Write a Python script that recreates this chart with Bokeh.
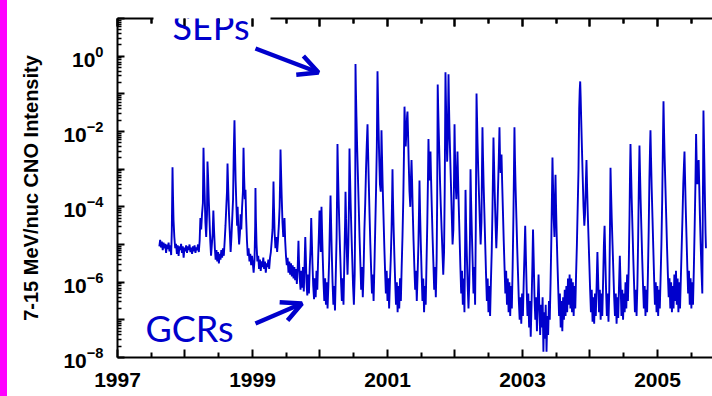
import math
from bokeh.plotting import figure
from bokeh.models import Range1d, FixedTicker, LinearAxis, Label, Arrow, OpenHead, Div
from bokeh.layouts import row
from bokeh.embed import file_html
from bokeh.resources import INLINE

# ---- data (decimal year, log10 of intensity) ----
year = [
    1997.620, 1997.632, 1997.645, 1997.657, 1997.670, 1997.682, 1997.695, 1997.707, 1997.720, 1997.732,
    1997.745, 1997.757, 1997.770, 1997.782, 1997.795, 1997.805, 1997.815, 1997.822, 1997.830, 1997.842,
    1997.855, 1997.867, 1997.880, 1997.892, 1997.905, 1997.917, 1997.930, 1997.942, 1997.955, 1997.967,
    1997.980, 1997.992, 1998.005, 1998.017, 1998.030, 1998.042, 1998.055, 1998.067, 1998.080, 1998.092,
    1998.105, 1998.117, 1998.130, 1998.142, 1998.155, 1998.167, 1998.180, 1998.192, 1998.205, 1998.217,
    1998.228, 1998.240, 1998.252, 1998.265, 1998.274, 1998.282, 1998.292, 1998.302, 1998.314, 1998.326,
    1998.333, 1998.342, 1998.352, 1998.362, 1998.374, 1998.386, 1998.398, 1998.410, 1998.420, 1998.430,
    1998.442, 1998.454, 1998.466, 1998.478, 1998.490, 1998.502, 1998.514, 1998.526, 1998.538, 1998.550,
    1998.562, 1998.575, 1998.588, 1998.600, 1998.612, 1998.622, 1998.630, 1998.640, 1998.652, 1998.664,
    1998.676, 1998.688, 1998.700, 1998.712, 1998.722, 1998.733, 1998.740, 1998.750, 1998.762, 1998.772,
    1998.780, 1998.790, 1998.802, 1998.814, 1998.824, 1998.834, 1998.846, 1998.858, 1998.867, 1998.876,
    1998.886, 1998.896, 1998.906, 1998.918, 1998.930, 1998.942, 1998.955, 1998.967, 1998.980, 1998.992,
    1999.005, 1999.017, 1999.030, 1999.040, 1999.044, 1999.050, 1999.060, 1999.072, 1999.085, 1999.097,
    1999.110, 1999.122, 1999.135, 1999.147, 1999.160, 1999.172, 1999.185, 1999.197, 1999.210, 1999.222,
    1999.235, 1999.247, 1999.260, 1999.272, 1999.285, 1999.297, 1999.306, 1999.311, 1999.318, 1999.328,
    1999.340, 1999.352, 1999.365, 1999.377, 1999.390, 1999.402, 1999.410, 1999.415, 1999.422, 1999.432,
    1999.444, 1999.456, 1999.466, 1999.474, 1999.484, 1999.496, 1999.508, 1999.520, 1999.533, 1999.545,
    1999.558, 1999.570, 1999.583, 1999.595, 1999.608, 1999.620, 1999.632, 1999.645, 1999.657, 1999.670,
    1999.676, 1999.681, 1999.688, 1999.700, 1999.712, 1999.724, 1999.736, 1999.748, 1999.760, 1999.772,
    1999.782, 1999.790, 1999.800, 1999.812, 1999.824, 1999.836, 1999.848, 1999.860, 1999.870, 1999.878,
    1999.888, 1999.900, 1999.912, 1999.924, 1999.936, 1999.948, 1999.960, 1999.972, 1999.984, 1999.993,
    2000.002, 2000.012, 2000.022, 2000.030, 2000.040, 2000.052, 2000.064, 2000.076, 2000.088, 2000.100,
    2000.112, 2000.124, 2000.136, 2000.146, 2000.156, 2000.164, 2000.174, 2000.186, 2000.198, 2000.210,
    2000.222, 2000.234, 2000.246, 2000.254, 2000.259, 2000.266, 2000.276, 2000.288, 2000.300, 2000.312,
    2000.324, 2000.336, 2000.348, 2000.360, 2000.372, 2000.378, 2000.386, 2000.396, 2000.408, 2000.420,
    2000.430, 2000.437, 2000.444, 2000.454, 2000.466, 2000.478, 2000.490, 2000.502, 2000.514, 2000.522,
    2000.526, 2000.532, 2000.540, 2000.550, 2000.562, 2000.574, 2000.586, 2000.598, 2000.610, 2000.622,
    2000.634, 2000.646, 2000.658, 2000.670, 2000.682, 2000.692, 2000.704, 2000.712, 2000.722, 2000.734,
    2000.746, 2000.758, 2000.770, 2000.782, 2000.794, 2000.806, 2000.818, 2000.830, 2000.842, 2000.852,
    2000.858, 2000.866, 2000.876, 2000.888, 2000.900, 2000.906, 2000.911, 2000.918, 2000.928, 2000.940,
    2000.952, 2000.964, 2000.976, 2000.988, 2001.000, 2001.012, 2001.024, 2001.036, 2001.048, 2001.060,
    2001.068, 2001.074, 2001.080, 2001.090, 2001.102, 2001.114, 2001.126, 2001.138, 2001.150, 2001.162,
    2001.174, 2001.186, 2001.198, 2001.210, 2001.222, 2001.234, 2001.244, 2001.252, 2001.260, 2001.270,
    2001.280, 2001.290, 2001.296, 2001.304, 2001.314, 2001.326, 2001.338, 2001.348, 2001.356, 2001.364,
    2001.374, 2001.386, 2001.398, 2001.410, 2001.422, 2001.434, 2001.446, 2001.458, 2001.468, 2001.474,
    2001.482, 2001.494, 2001.506, 2001.518, 2001.530, 2001.542, 2001.554, 2001.566, 2001.578, 2001.590,
    2001.600, 2001.607, 2001.614, 2001.622, 2001.630, 2001.637, 2001.645, 2001.656, 2001.668, 2001.680,
    2001.692, 2001.704, 2001.716, 2001.728, 2001.736, 2001.744, 2001.750, 2001.758, 2001.768, 2001.778,
    2001.790, 2001.802, 2001.814, 2001.826, 2001.838, 2001.848, 2001.859, 2001.866, 2001.874, 2001.884,
    2001.894, 2001.904, 2001.910, 2001.918, 2001.928, 2001.940, 2001.952, 2001.964, 2001.976, 2001.986,
    2001.993, 2002.000, 2002.010, 2002.020, 2002.030, 2002.037, 2002.045, 2002.056, 2002.068, 2002.080,
    2002.092, 2002.104, 2002.116, 2002.128, 2002.140, 2002.150, 2002.156, 2002.164, 2002.176, 2002.188,
    2002.200, 2002.212, 2002.222, 2002.230, 2002.238, 2002.250, 2002.262, 2002.274, 2002.286, 2002.298,
    2002.308, 2002.314, 2002.319, 2002.326, 2002.334, 2002.344, 2002.356, 2002.368, 2002.380, 2002.392,
    2002.400, 2002.407, 2002.414, 2002.424, 2002.436, 2002.448, 2002.460, 2002.472, 2002.484, 2002.496,
    2002.508, 2002.520, 2002.532, 2002.544, 2002.556, 2002.564, 2002.570, 2002.578, 2002.588, 2002.600,
    2002.612, 2002.624, 2002.636, 2002.648, 2002.659, 2002.666, 2002.676, 2002.684, 2002.689, 2002.698,
    2002.710, 2002.722, 2002.734, 2002.746, 2002.758, 2002.770, 2002.782, 2002.794, 2002.806, 2002.818,
    2002.830, 2002.842, 2002.854, 2002.866, 2002.874, 2002.881, 2002.888, 2002.898, 2002.910, 2002.922,
    2002.934, 2002.946, 2002.958, 2002.970, 2002.982, 2002.994, 2003.006, 2003.018, 2003.030, 2003.040,
    2003.050, 2003.062, 2003.074, 2003.086, 2003.098, 2003.110, 2003.122, 2003.134, 2003.146, 2003.156,
    2003.166, 2003.178, 2003.190, 2003.202, 2003.214, 2003.226, 2003.238, 2003.250, 2003.262, 2003.274,
    2003.286, 2003.298, 2003.310, 2003.320, 2003.332, 2003.344, 2003.356, 2003.368, 2003.380, 2003.392,
    2003.404, 2003.416, 2003.428, 2003.438, 2003.444, 2003.452, 2003.462, 2003.474, 2003.482, 2003.489,
    2003.496, 2003.506, 2003.518, 2003.530, 2003.542, 2003.554, 2003.566, 2003.578, 2003.590, 2003.602,
    2003.614, 2003.626, 2003.638, 2003.650, 2003.662, 2003.674, 2003.686, 2003.698, 2003.710, 2003.722,
    2003.734, 2003.746, 2003.758, 2003.770, 2003.782, 2003.794, 2003.806, 2003.818, 2003.830, 2003.840,
    2003.848, 2003.855, 2003.862, 2003.870, 2003.880, 2003.892, 2003.904, 2003.916, 2003.926, 2003.938,
    2003.948, 2003.956, 2003.966, 2003.978, 2003.990, 2004.002, 2004.014, 2004.026, 2004.038, 2004.050,
    2004.062, 2004.074, 2004.086, 2004.098, 2004.110, 2004.122, 2004.134, 2004.146, 2004.158, 2004.170,
    2004.182, 2004.194, 2004.206, 2004.216, 2004.226, 2004.238, 2004.250, 2004.262, 2004.274, 2004.286,
    2004.296, 2004.304, 2004.312, 2004.322, 2004.334, 2004.346, 2004.358, 2004.370, 2004.382, 2004.394,
    2004.406, 2004.418, 2004.430, 2004.442, 2004.454, 2004.466, 2004.478, 2004.490, 2004.502, 2004.514,
    2004.526, 2004.538, 2004.550, 2004.562, 2004.574, 2004.586, 2004.594, 2004.600, 2004.608, 2004.618,
    2004.630, 2004.642, 2004.654, 2004.666, 2004.678, 2004.690, 2004.702, 2004.714, 2004.724, 2004.733,
    2004.740, 2004.750, 2004.762, 2004.774, 2004.786, 2004.798, 2004.810, 2004.822, 2004.834, 2004.846,
    2004.858, 2004.870, 2004.880, 2004.890, 2004.896, 2004.904, 2004.914, 2004.926, 2004.938, 2004.950,
    2004.962, 2004.974, 2004.986, 2004.998, 2005.010, 2005.022, 2005.034, 2005.046, 2005.058, 2005.070,
    2005.080, 2005.089, 2005.096, 2005.106, 2005.118, 2005.130, 2005.142, 2005.154, 2005.166, 2005.178,
    2005.190, 2005.202, 2005.214, 2005.226, 2005.238, 2005.250, 2005.262, 2005.274, 2005.286, 2005.298,
    2005.310, 2005.322, 2005.334, 2005.346, 2005.358, 2005.370, 2005.382, 2005.392, 2005.400, 2005.408,
    2005.418, 2005.430, 2005.442, 2005.454, 2005.466, 2005.478, 2005.490, 2005.502, 2005.514, 2005.526,
    2005.538, 2005.550, 2005.562, 2005.572, 2005.580, 2005.590, 2005.600, 2005.610, 2005.618, 2005.628,
    2005.640, 2005.652, 2005.664, 2005.672, 2005.681, 2005.688, 2005.696, 2005.704, 2005.712, 2005.718,
]

log_cno = [
    -5.05, -4.88, -5.08, -4.92, -5.15, -4.95, -5.10, -4.98, -5.22, -5.00,
    -5.12, -4.95, -5.18, -5.02, -5.28, -4.60, -2.95, -3.70, -4.35, -4.80,
    -5.10, -4.98, -5.25, -5.02, -5.30, -5.05, -5.15, -4.98, -5.22, -5.05,
    -5.35, -5.08, -5.18, -5.02, -5.22, -5.05, -5.15, -5.00, -5.20, -5.08,
    -5.25, -5.05, -5.18, -5.02, -5.22, -5.08, -5.15, -5.00, -5.20, -4.90,
    -4.30, -4.60, -4.20, -3.90, -2.43, -3.10, -3.70, -4.40, -4.80, -4.20,
    -2.80, -3.20, -3.80, -4.30, -4.90, -5.30, -5.00, -4.70, -4.10, -4.60,
    -5.10, -5.40, -5.15, -5.45, -5.20, -5.50, -5.25, -5.40, -5.15, -5.35,
    -5.10, -5.30, -4.90, -4.50, -4.00, -3.60, -2.85, -3.50, -4.20, -4.70,
    -5.20, -4.80, -4.30, -3.80, -2.60, -1.70, -2.40, -3.30, -4.00, -4.50,
    -4.00, -4.60, -5.00, -4.70, -4.20, -4.60, -4.00, -3.60, -2.43, -3.20,
    -3.80, -3.55, -4.30, -4.90, -5.30, -5.10, -5.45, -5.25, -5.55, -5.30,
    -5.50, -5.75, -5.40, -4.50, -3.50, -4.30, -5.00, -5.45, -5.30, -5.65,
    -5.40, -5.70, -5.45, -5.60, -5.35, -5.65, -5.45, -5.75, -5.50, -5.60,
    -5.40, -5.65, -5.35, -5.20, -4.90, -4.60, -3.90, -3.33, -4.00, -4.70,
    -5.10, -4.80, -5.20, -4.90, -4.50, -4.00, -3.20, -2.48, -3.00, -3.70,
    -4.40, -4.80, -4.60, -4.30, -4.90, -5.30, -5.55, -5.35, -5.75, -5.45,
    -5.80, -5.50, -5.85, -5.55, -5.90, -5.60, -5.95, -5.65, -6.05, -5.60,
    -5.20, -4.90, -5.40, -5.90, -6.20, -5.70, -6.15, -5.60, -6.25, -5.50,
    -4.80, -5.30, -6.00, -6.35, -5.80, -6.30, -5.60, -5.10, -4.30, -4.80,
    -5.50, -6.10, -6.45, -5.90, -6.40, -5.70, -6.20, -5.40, -4.70, -4.10,
    -4.60, -5.20, -4.00, -4.60, -5.30, -6.00, -6.50, -5.90, -6.60, -6.00,
    -6.70, -6.10, -5.40, -4.50, -3.70, -4.40, -5.20, -6.00, -6.60, -6.10,
    -6.75, -5.80, -4.80, -3.50, -2.33, -3.00, -3.80, -4.60, -5.30, -6.00,
    -6.50, -5.90, -6.60, -5.50, -4.40, -3.60, -4.30, -5.10, -5.80, -5.00,
    -3.80, -2.45, -3.10, -3.90, -4.70, -5.40, -6.10, -6.60, -5.80, -4.20,
    -0.21, -0.90, -1.60, -2.40, -3.20, -4.00, -4.80, -5.50, -6.20, -5.60,
    -6.40, -5.70, -4.60, -3.90, -3.00, -2.40, -1.81, -2.50, -3.30, -4.20,
    -5.00, -5.70, -6.30, -5.80, -6.50, -5.60, -4.60, -3.60, -2.40, -0.40,
    -1.00, -1.80, -2.60, -3.40, -3.60, -2.80, -1.97, -2.60, -3.40, -4.20,
    -5.00, -5.70, -6.30, -5.70, -6.50, -5.90, -6.70, -6.00, -5.40, -4.60,
    -3.80, -3.00, -3.70, -4.50, -5.30, -6.00, -6.60, -6.00, -6.80, -6.10,
    -6.70, -5.90, -6.50, -5.60, -4.80, -3.80, -2.60, -1.34, -1.80, -2.40,
    -2.00, -1.60, -1.47, -2.00, -2.80, -3.60, -4.00, -3.20, -2.76, -3.30,
    -4.10, -4.90, -5.60, -6.20, -5.70, -6.50, -5.80, -5.00, -4.00, -3.30,
    -4.10, -5.00, -5.80, -6.50, -5.90, -6.80, -6.10, -6.60, -5.50, -4.40,
    -3.20, -2.20, -2.80, -3.30, -2.90, -2.53, -3.20, -4.00, -4.80, -5.50,
    -6.20, -5.60, -6.40, -5.40, -3.80, -0.75, -1.30, -1.90, -2.60, -3.30,
    -4.00, -4.60, -5.20, -5.80, -5.20, -3.50, -0.43, -1.20, -2.00, -2.80,
    -2.20, -0.48, -1.20, -1.90, -2.60, -3.40, -4.20, -5.00, -4.60, -3.20,
    -1.81, -2.60, -3.40, -3.80, -3.20, -2.53, -3.20, -4.00, -4.80, -5.60,
    -6.30, -5.70, -6.60, -5.90, -6.80, -5.00, -3.55, -4.40, -5.30, -6.10,
    -6.70, -6.00, -4.80, -3.00, -3.80, -4.70, -5.50, -6.30, -5.60, -6.60,
    -4.60, -2.60, -0.99, -1.60, -2.30, -3.00, -3.70, -4.40, -5.00, -4.40,
    -3.00, -1.89, -2.60, -3.40, -4.20, -5.00, -5.80, -6.50, -5.90, -6.80,
    -6.10, -6.90, -6.00, -5.20, -4.00, -3.00, -2.16, -2.80, -3.60, -4.40,
    -5.10, -4.50, -3.60, -2.80, -1.89, -2.60, -3.10, -2.80, -2.61, -3.30,
    -4.10, -4.90, -5.60, -6.30, -5.70, -6.60, -5.90, -6.80, -6.00, -6.90,
    -6.10, -6.70, -5.60, -4.20, -3.00, -1.89, -2.70, -3.50, -4.30, -5.10,
    -5.80, -6.50, -7.00, -6.40, -7.10, -6.30, -6.90, -6.00, -5.20, -4.50,
    -5.30, -6.20, -6.90, -6.30, -7.20, -6.50, -7.45, -6.60, -5.60, -4.60,
    -5.40, -6.40, -7.00, -6.40, -7.30, -6.50, -5.80, -6.70, -7.40, -6.60,
    -7.20, -6.40, -7.85, -6.80, -7.50, -6.60, -7.85, -6.90, -7.40, -6.50,
    -7.00, -6.00, -4.80, -3.50, -2.69, -3.40, -4.30, -4.80, -3.80, -3.15,
    -3.90, -4.70, -5.50, -6.20, -6.90, -6.30, -7.20, -6.50, -7.30, -6.40,
    -7.00, -6.20, -6.90, -6.10, -6.80, -5.90, -6.60, -5.80, -6.70, -5.90,
    -6.80, -6.00, -6.90, -6.10, -6.70, -5.80, -5.00, -4.00, -3.00, -1.40,
    -0.90, -0.67, -1.10, -1.70, -2.40, -3.20, -4.00, -4.50, -4.20, -3.40,
    -2.76, -3.40, -4.10, -4.80, -5.50, -6.20, -6.80, -6.20, -7.05, -6.40,
    -7.10, -6.30, -6.90, -6.10, -5.20, -6.00, -6.80, -6.20, -7.00, -6.30,
    -6.90, -6.00, -5.00, -4.50, -5.30, -6.20, -6.90, -6.30, -7.05, -6.20,
    -4.60, -2.96, -3.60, -4.30, -5.00, -5.70, -6.40, -6.90, -6.30, -7.10,
    -6.40, -6.95, -6.10, -5.30, -6.10, -6.90, -6.20, -7.00, -6.30, -6.80,
    -6.00, -6.70, -5.80, -6.50, -5.60, -4.20, -3.00, -2.33, -3.00, -3.80,
    -4.60, -5.40, -6.10, -6.80, -6.20, -6.90, -6.10, -4.80, -3.40, -2.37,
    -3.00, -3.80, -4.60, -5.40, -6.10, -6.70, -6.10, -6.90, -6.20, -6.80,
    -5.80, -4.60, -3.30, -2.40, -1.97, -2.70, -3.50, -4.30, -5.10, -5.90,
    -6.60, -6.00, -6.80, -6.10, -6.90, -6.20, -6.70, -5.90, -5.00, -3.80,
    -2.40, -1.20, -1.90, -2.70, -3.50, -4.30, -5.10, -5.80, -6.40, -5.90,
    -6.70, -6.00, -6.80, -6.10, -6.70, -5.80, -6.50, -5.70, -6.60, -5.90,
    -6.80, -6.00, -6.70, -5.90, -5.10, -4.30, -3.40, -2.90, -2.53, -3.20,
    -4.00, -4.80, -5.60, -6.30, -5.70, -6.60, -5.90, -6.70, -6.00, -6.60,
    -5.70, -4.60, -3.40, -2.07, -2.80, -3.40, -3.00, -2.76, -3.40, -4.20,
    -5.00, -5.70, -6.30, -4.00, -1.44, -2.20, -3.00, -3.90, -4.70, -5.10,
]
assert len(year) == len(log_cno)

x_tick_years = [1997, 1998, 1999, 2000, 2001, 2002, 2003, 2004, 2005]
x_minor_years = [1997.5, 1998.5, 1999.5, 2000.5, 2001.5, 2002.5, 2003.5, 2004.5, 2005.5]
x_unlabelled_years = [1998, 2000, 2002, 2004]
y_decades = [-8, -7, -6, -5, -4, -3, -2, -1, 0, 1]
y_unlabelled_decades = [-7, -5, -3, -1, 1]
y_title = "7-15 MeV/nuc CNO Intensity"
sep_text = "SEPs"
gcr_text = "GCRs"

intensity = [10 ** v for v in log_cno]

BLUE = "#0000CC"
TICK_FONT = "Liberation Sans"
X_START, X_END = 1997, 2005.815

p = figure(
    width=705, height=396, y_axis_type="log",
    x_range=Range1d(X_START, X_END), y_range=Range1d(1e-8, 10),
    output_backend="svg", toolbar_location=None,
    min_border_left=110, min_border_right=0, min_border_top=18, min_border_bottom=39,
)
p.outline_line_color = None
p.grid.visible = False
p.background_fill_color = "white"
p.border_fill_color = "white"

p.line(year, intensity, line_color=BLUE, line_width=1.9)

# x axes: bottom labelled; top with ticks only, interrupted where "SEPs" sits
x_ticker = FixedTicker(ticks=x_tick_years, minor_ticks=x_minor_years)
xa = p.xaxis[0]
xa.ticker = x_ticker
xa.major_label_overrides = {yr: "" for yr in x_unlabelled_years}
top_right = LinearAxis(ticker=x_ticker, bounds=(1999.27, X_END),
                       major_label_text_font_size="0px", major_label_standoff=0)
top_left = LinearAxis(ticker=x_ticker, bounds=(X_START, 1997.53),
                      major_label_text_font_size="0px", major_label_standoff=0)
p.add_layout(top_right, "above")
p.add_layout(top_left, "above")
for ax in (xa, top_right, top_left):
    ax.axis_line_width = 2
    ax.axis_line_color = "black"
    ax.major_tick_in = 8
    ax.major_tick_out = 0
    ax.minor_tick_in = 5
    ax.minor_tick_out = 0
    ax.major_tick_line_width = 2
    ax.minor_tick_line_width = 2
xa.major_label_text_font = TICK_FONT
xa.major_label_text_font_style = "bold"
xa.major_label_text_font_size = "21px"
xa.major_label_text_color = "black"
xa.major_label_standoff = 15

# y axis (log)
ya = p.yaxis[0]
ya.ticker = FixedTicker(
    ticks=[10.0 ** e for e in y_decades],
    minor_ticks=[m * 10.0 ** e for e in y_decades[:-1] for m in range(2, 10)],
)
ya.major_label_overrides = {10.0 ** e: "" for e in y_unlabelled_decades}
ya.axis_line_width = 2
ya.axis_line_color = "black"
ya.major_tick_in = 7
ya.major_tick_out = 0
ya.minor_tick_in = 4
ya.minor_tick_out = 0
ya.major_tick_line_width = 2
ya.minor_tick_line_width = 1.5
ya.major_label_text_font = TICK_FONT
ya.major_label_text_font_style = "bold"
ya.major_label_text_font_size = "21px"
ya.major_label_text_color = "black"
ya.major_label_standoff = 14
ya.axis_label = y_title
ya.axis_label_text_font = TICK_FONT
ya.axis_label_text_font_style = "bold"
ya.axis_label_text_font_size = "20px"
ya.axis_label_text_color = "black"
ya.axis_label_standoff = 18

# annotations
p.add_layout(Label(
    x=1997.815, y=10 ** 0.814, text=sep_text, text_align="left", text_baseline="middle",
    text_font="Lato", text_font_size="36px", text_color=BLUE,
))
p.add_layout(Label(
    x=1997.415, y=10 ** -7.216, text=gcr_text, text_align="left", text_baseline="middle",
    text_font="Lato", text_font_size="36px", text_color=BLUE,
))
p.add_layout(Arrow(
    end=OpenHead(size=20, line_width=4.5, line_color=BLUE),
    x_start=1999.044, y_start=10 ** 0.204, x_end=1999.978, y_end=10 ** -0.434,
    line_width=4.5, line_color=BLUE,
))
p.add_layout(Arrow(
    end=OpenHead(size=20, line_width=4.5, line_color=BLUE),
    x_start=1999.044, y_start=10 ** -7.097, x_end=1999.733, y_end=10 ** -6.566,
    line_width=4.5, line_color=BLUE,
))

stripe = Div(width=7, height=396, styles={"background-color": "#FF00FF"}, margin=0)
layout = row(stripe, p, spacing=0)

open("out.html", "w").write(file_html(layout, INLINE))
